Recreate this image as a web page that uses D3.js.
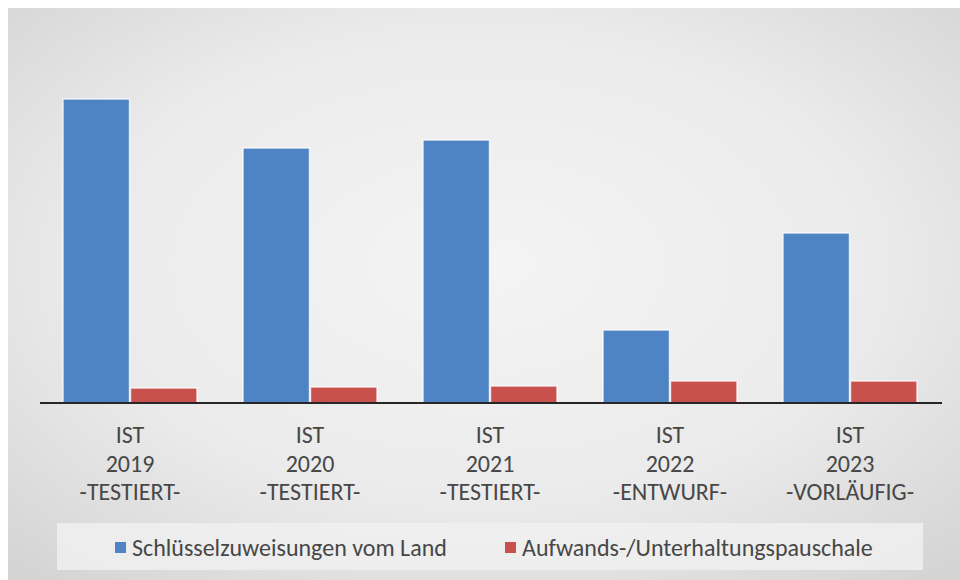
<!DOCTYPE html>
<html><head><meta charset="utf-8">
<script src="https://cdn.jsdelivr.net/npm/d3@7"></script>
<style>html,body{margin:0;padding:0;background:#fff;}svg{display:block;}</style>
</head><body>
<svg id="chart" width="960" height="580"></svg>
<script>
const categories = [
  ["IST","2019","-TESTIERT-"],
  ["IST","2020","-TESTIERT-"],
  ["IST","2021","-TESTIERT-"],
  ["IST","2022","-ENTWURF-"],
  ["IST","2023","-VORLÄUFIG-"]
];
const seriesNames = ["Schlüsselzuweisungen vom Land","Aufwands-/Unterhaltungspauschale"];
const schluessel = [304, 255, 263, 73, 170];
const pauschale = [15, 16, 17, 22, 22];
const colors = ["#4f84c4","#c9514d"];

const svg = d3.select("#chart");
const defs = svg.append("defs");
const bg = defs.append("radialGradient").attr("id","bg").attr("cx","50%").attr("cy","45%").attr("r","75%");
bg.append("stop").attr("offset","0%").attr("stop-color","#f4f4f4");
bg.append("stop").attr("offset","55%").attr("stop-color","#ebebeb");
bg.append("stop").attr("offset","100%").attr("stop-color","#d2d2d2");

svg.append("rect").attr("x",8).attr("y",8).attr("width",952).attr("height",572).attr("fill","url(#bg)");

const x0 = d3.scaleBand().domain(d3.range(categories.length)).range([40,940]).paddingInner(0.25).paddingOuter(0.125);
const x1 = d3.scaleBand().domain([0,1]).range([0,x0.bandwidth()]);
const y = d3.scaleLinear().domain([0,350]).range([403,53]);

const data = categories.map((c,i)=>({i, vals:[schluessel[i], pauschale[i]]}));
const g = svg.append("g");
const grp = g.selectAll("g.cat").data(data).join("g").attr("transform",d=>`translate(${x0(d.i)},0)`);
grp.selectAll("rect").data(d=>d.vals.map((v,k)=>({v,k}))).join("rect")
  .attr("x",d=>x1(d.k)+0.5).attr("width",x1.bandwidth()-1)
  .attr("y",d=>y(d.v)).attr("height",d=>y(0)-y(d.v))
  .attr("fill",d=>colors[d.k])
  .attr("stroke","rgba(255,255,255,0.75)").attr("stroke-width",1.5);

// axis
const axis = d3.axisBottom(x0).tickSize(0).tickFormat("");
const ax = svg.append("g").attr("transform","translate(0,403)").call(axis);
ax.select(".domain").attr("stroke","#262626").attr("stroke-width",2.2).attr("d","M40,0H942");

const font = "Calibri, Carlito, Lato, sans-serif";
const lab = svg.append("g");
categories.forEach((c,i)=>{
  const cx = x0(i)+x0.bandwidth()/2;
  c.forEach((t,j)=>{
    lab.append("text").attr("x",cx).attr("y",443+j*28.5).attr("text-anchor","middle")
      .attr("font-family",font).attr("font-size",24).attr("fill","#474747").text(t);
  });
});

// legend
const leg = svg.append("g");
leg.append("rect").attr("x",57).attr("y",523).attr("width",866).attr("height",47).attr("fill","#f0f0f0").attr("opacity",0.85);
const legX = [115, 505];
seriesNames.forEach((n,k)=>{
  leg.append("rect").attr("x",legX[k]).attr("y",542).attr("width",11).attr("height",11).attr("fill",colors[k]);
  leg.append("text").attr("x",legX[k]+17).attr("y",556).attr("font-family",font).attr("font-size",24).attr("fill","#474747").text(n);
});
</script>
</body></html>
